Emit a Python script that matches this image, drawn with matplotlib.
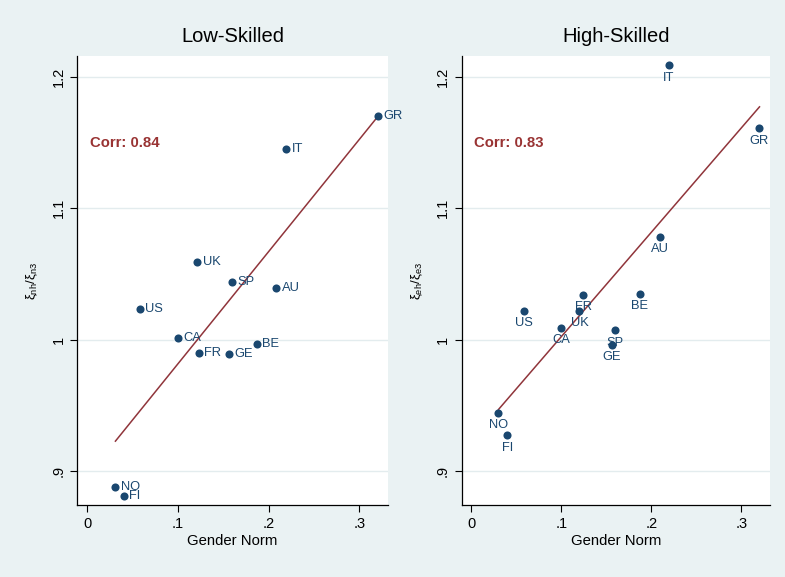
import numpy as np
import matplotlib
matplotlib.use("Agg")
import matplotlib.pyplot as plt

plt.rcParams['font.family'] = ['Liberation Sans', 'DejaVu Sans']
plt.rcParams['mathtext.fontset'] = 'custom'
plt.rcParams['mathtext.rm'] = 'Liberation Sans'
plt.rcParams['mathtext.it'] = 'Liberation Sans'

# country codes
countries = ['GR', 'IT', 'UK', 'SP', 'AU', 'US', 'CA', 'FR', 'GE', 'BE', 'NO', 'FI']
# gender norm (x) for low-skilled panel
gender_norm = [0.320, 0.219, 0.121, 0.159, 0.208, 0.058, 0.100, 0.123, 0.156, 0.187, 0.031, 0.040]
# low-skilled ratio
low_skilled = [1.170, 1.145, 1.059, 1.044, 1.039, 1.023, 1.001, 0.990, 0.989, 0.997, 0.888, 0.881]
# high-skilled panel
high_gn = [0.320, 0.219, 0.120, 0.159, 0.209, 0.058, 0.100, 0.124, 0.156, 0.187, 0.030, 0.040]
high_skilled = [1.161, 1.209, 1.022, 1.007, 1.078, 1.022, 1.009, 1.034, 0.996, 1.035, 0.944, 0.927]

corr_low = "Corr: 0.84"
corr_high = "Corr: 0.83"

navy = '#1a476f'
maroon = '#90353b'
bg = '#eaf2f3'

fig = plt.figure(figsize=(7.85, 5.77), dpi=100, facecolor=bg)
ax1 = fig.add_axes([0.0985, 0.1248, 0.3958, 0.778])
ax2 = fig.add_axes([0.588, 0.1248, 0.3927, 0.778])

panels = [
    (ax1, gender_norm, low_skilled, 'Low-Skilled', corr_low, r'$\xi_{nh}/\xi_{n3}$', 'right'),
    (ax2, high_gn, high_skilled, 'High-Skilled', corr_high, r'$\xi_{eh}/\xi_{e3}$', 'below'),
]

for ax, x, y, title, corr, ylab, pos in panels:
    x = np.array(x)
    y = np.array(y)
    ax.set_facecolor('white')
    # fitted line
    b, a = np.polyfit(x, y, 1)
    xs = np.array([x.min(), x.max()])
    ax.plot(xs, a + b * xs, color=maroon, lw=1.1, zorder=2)
    ax.scatter(x, y, s=34, color=navy, zorder=3, linewidths=0)
    for c, xi, yi in zip(countries, x, y):
        if pos == 'right':
            ax.annotate(c, (xi, yi), xytext=(4, 0), textcoords='offset points',
                        ha='left', va='center', fontsize=9.3, color=navy)
        else:
            ax.annotate(c, (xi, yi), xytext=(0, -4.5), textcoords='offset points',
                        ha='center', va='top', fontsize=9.3, color=navy)
    ax.text(0.003, 1.15, corr, color='#993333', fontsize=10.7, fontweight='bold',
            ha='left', va='center')
    ax.set_xlim(-0.011, 0.3315)
    ax.set_ylim(0.874, 1.216)
    ax.set_xticks([0, 0.1, 0.2, 0.3])
    ax.set_xticklabels(['0', '.1', '.2', '.3'])
    ax.set_yticks([0.9, 1.0, 1.1, 1.2])
    ax.set_yticklabels(['.9', '1', '1.1', '1.2'], rotation=90, va='center')
    ax.tick_params(labelsize=10.5, length=5, width=0.8, colors='black', direction='out')
    ax.grid(axis='y', color='#e3ecee', lw=1)
    ax.set_axisbelow(True)
    for s in ['top', 'right']:
        ax.spines[s].set_visible(False)
    for s in ['left', 'bottom']:
        ax.spines[s].set_color('black')
        ax.spines[s].set_linewidth(0.9)
    ax.set_title(title, fontsize=14.5, pad=10, color='black')
    ax.set_xlabel('Gender Norm', fontsize=10.7, labelpad=2)
    ax.set_ylabel(ylab, fontsize=9.5, labelpad=8)

fig.savefig('out.png', dpi=100, facecolor=bg)
